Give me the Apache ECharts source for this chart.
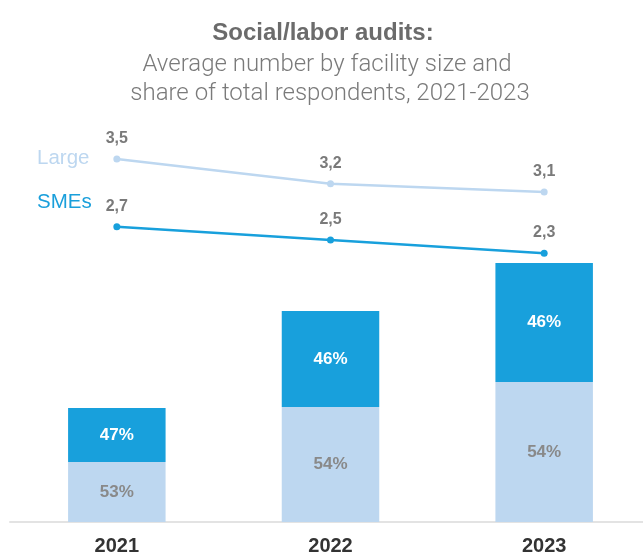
<!DOCTYPE html>
<html><head><meta charset="utf-8">
<script src="https://cdn.jsdelivr.net/npm/echarts@6/dist/echarts.min.js"></script>
<style>html,body{margin:0;padding:0;background:#fff}#c{width:643px;height:552px}</style>
</head><body><div id="c"></div>
<script>
const years = ['2021', '2022', '2023'];
const largeAvg = [3.5, 3.2, 3.1];
const smeAvg = [2.7, 2.5, 2.3];
const largeRespondents = [60, 115, 140];
const smeRespondents = [54, 96, 119];
const largeShare = ['53%', '54%', '54%'];
const smeShare = ['47%', '46%', '46%'];
const titleText = 'Social/labor audits:';
const subtitleLines = ['Average number by facility size and', 'share of total respondents, 2021-2023'];
const seriesNames = ['Large', 'SMEs'];

const chart = echarts.init(document.getElementById('c'));
const fmt = p => String(p.value).replace('.', ',');
const BOLD = 'Liberation Sans, Arial, sans-serif';
chart.setOption({
  animation: false,
  graphic: [
    {type: 'text', x: 323, y: 33, style: {text: titleText, fill: '#6b6b6b', font: 'bold 24px Liberation Sans, Arial', textAlign: 'center', textVerticalAlign: 'middle'}},
    {type: 'text', x: 327, y: 65, style: {text: subtitleLines[0], fill: '#7a7a7a', font: '300 24px Roboto, Liberation Sans', textAlign: 'center', textVerticalAlign: 'middle'}},
    {type: 'text', x: 330, y: 94, style: {text: subtitleLines[1], fill: '#7a7a7a', font: '300 24px Roboto, Liberation Sans', textAlign: 'center', textVerticalAlign: 'middle'}},
    {type: 'text', x: 37, y: 158, style: {text: seriesNames[0], fill: '#bdd7f0', font: '20.5px Liberation Sans, Arial', textAlign: 'left', textVerticalAlign: 'middle'}},
    {type: 'text', x: 37, y: 202, style: {text: seriesNames[1], fill: '#1a9fdb', font: '20.5px Liberation Sans, Arial', textAlign: 'left', textVerticalAlign: 'middle'}}
  ],
  grid: {left: 10, width: 641, top: 0, bottom: 30, containLabel: false, outerBoundsMode: 'none'},
  xAxis: {
    type: 'category', data: years,
    axisLine: {lineStyle: {color: '#e3e3e3', width: 2}},
    axisTick: {show: false},
    axisLabel: {margin: 14, fontSize: 20, fontWeight: 'bold', color: '#333', fontFamily: BOLD}
  },
  yAxis: [
    {type: 'value', min: 0, max: 522, show: false},
    {type: 'value', min: -0.9, max: 5.427, show: false},
    {type: 'value', min: -1.74, max: 6.11, show: false}
  ],
  series: [
    {name: 'Large share', type: 'bar', stack: 'r', data: largeRespondents, barWidth: 97.5,
      itemStyle: {color: '#bdd7f0'},
      label: {show: true, position: 'inside', formatter: p => largeShare[p.dataIndex], color: '#898989', fontSize: 17, fontWeight: 'bold', fontFamily: BOLD}},
    {name: 'SMEs share', type: 'bar', stack: 'r', data: smeRespondents, barWidth: 97.5,
      itemStyle: {color: '#18a0dc'},
      label: {show: true, position: 'inside', formatter: p => smeShare[p.dataIndex], color: '#fff', fontSize: 17, fontWeight: 'bold', fontFamily: BOLD}},
    {name: seriesNames[0], type: 'line', yAxisIndex: 1, data: largeAvg, symbol: 'circle', symbolSize: 7,
      lineStyle: {color: '#bdd7f0', width: 2.5}, itemStyle: {color: '#bdd7f0'},
      label: {show: true, position: 'top', distance: 9, formatter: fmt, color: '#7a7a7a', fontSize: 16, fontWeight: 'bold', fontFamily: BOLD}},
    {name: seriesNames[1], type: 'line', yAxisIndex: 2, data: smeAvg, symbol: 'circle', symbolSize: 7,
      lineStyle: {color: '#18a0dc', width: 2.5}, itemStyle: {color: '#18a0dc'},
      label: {show: true, position: 'top', distance: 9, formatter: fmt, color: '#7a7a7a', fontSize: 16, fontWeight: 'bold', fontFamily: BOLD}}
  ]
});
</script></body></html>
